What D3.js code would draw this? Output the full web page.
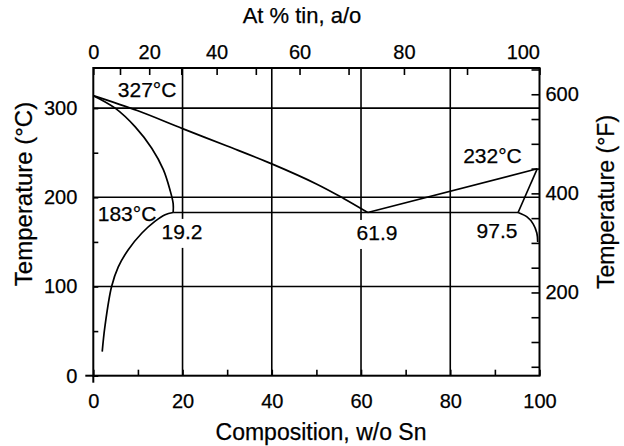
<!DOCTYPE html>
<html>
<head>
<meta charset="utf-8">
<script src="https://cdn.jsdelivr.net/npm/d3@7"></script>
<style>
  html, body { margin: 0; padding: 0; background: #fff; }
  svg { display: block; }
  text { font-family: "Liberation Sans", Arial, Helvetica, sans-serif; fill: #000; stroke: #000; stroke-width: 0.25px; }
</style>
</head>
<body>
<svg id="chart" width="624" height="446"></svg>
<script>
// ---------- data (composition in w/o Sn, temperature in °C) ----------
const wtMajorTicks = [0, 20, 40, 60, 80, 100];
const wtMinorTicks = [10, 30, 50, 70, 90];
const atMajorTicks = [0, 20, 40, 60, 80, 100];
const atMinorTicks = [10, 30, 50, 70, 90];
const tempMajorTicksC = [0, 100, 200, 300];
const tempMinorTicksC = [50, 150, 250];
const tempLabelsF = [200, 400, 600];
const tempTicksF = [50, 100, 150, 200, 250, 300, 350, 400, 450, 500, 550, 600, 650];

const liquidusPb = [[0, 314], [10, 297], [20, 277], [30, 257.5], [40, 237.5], [50, 215], [56, 199], [61.5, 183]];
const solidusAlpha = [[0, 314], [4.9, 300], [9.4, 279], [13.1, 255], [15.7, 231], [17.2, 208], [17.9, 193], [17.9, 183]];
const solvusAlpha = [[17.9, 183], [16.1, 180.5], [13.8, 173], [10.9, 160], [7.8, 141], [5.6, 122], [4.1, 100], [2.6, 55], [2.0, 27]];
const eutecticLine = [[17.9, 183], [95.2, 183]];
const liquidusSn = [[61.5, 183], [99.5, 232]];
const solidusBeta = [[99.5, 232], [95.2, 183]];
const solvusBeta = [[95.2, 183], [97.2, 178], [98.6, 170], [99.4, 160], [99.6, 150]];

const labelTexts = ["327°C", "183°C", "19.2", "61.9", "97.5", "232°C"];
const labelAnchors = [[5.5, 312.5], [1.0, 173.6], [15.3, 153.4], [59.0, 152.2], [85.9, 154.5], [82.9, 238.6]];
const labelMasked = [false, false, true, true, false, false];

// atomic weights used to place the a/o (atomic %) axis
const atomicWeightSn = 118.71, atomicWeightPb = 207.2;

// ---------- scales ----------
const svg = d3.select("#chart");
const pL = 93.3, pR = 539.5, pT = 68, pB = 375.7;
const x = d3.scaleLinear().domain([0, 100]).range([pL, pR]);
const y = d3.scaleLinear().domain([0, 345]).range([pB, pT]);

function atToWt(a) {
  if (a <= 0) return 0; if (a >= 100) return 100;
  const m = a * atomicWeightSn, n = (100 - a) * atomicWeightPb;
  return 100 * m / (m + n);
}
const atAll = d3.range(0, 101, 5);
const xAt = d3.scaleLinear().domain(atAll).range(atAll.map(a => x(atToWt(a))));

const cToF = c => c * 9 / 5 + 32;
const yF = d3.scaleLinear().domain([cToF(0), cToF(345)]).range([pB, pT]);

// ---------- grid ----------
const grid = svg.append("g").attr("stroke", "#000").attr("stroke-width", 1.6);
grid.selectAll("line.h").data(tempMajorTicksC.filter(d => d > 0)).join("line")
  .attr("x1", pL).attr("x2", pR).attr("y1", d => y(d)).attr("y2", d => y(d));
grid.selectAll("line.v").data(wtMajorTicks.filter(d => d > 0 && d < 100)).join("line")
  .attr("y1", pT).attr("y2", pB).attr("x1", d => x(d)).attr("x2", d => x(d));

// ---------- axes ----------
const fontTick = "20px";
function styleAxis(g) {
  g.select(".domain").remove();
  g.selectAll(".tick line").attr("stroke", "#000").attr("stroke-width", 1.6);
  g.selectAll(".tick text").attr("font-size", fontTick).attr("font-family", null).attr("fill", "#000");
}
const allC = tempMajorTicksC.concat(tempMinorTicksC).sort((a, b) => a - b);
svg.append("g").attr("transform", `translate(${pL},0)`)
  .call(d3.axisLeft(y).tickValues(allC).tickSizeInner(-5).tickSizeOuter(0).tickPadding(16)
    .tickFormat(d => tempMajorTicksC.includes(d) ? d : ""))
  .call(styleAxis);

const allWt = wtMajorTicks.concat(wtMinorTicks).sort((a, b) => a - b);
svg.append("g").attr("transform", `translate(0,${pB})`)
  .call(d3.axisBottom(x).tickValues(allWt).tickSizeInner(-6).tickSizeOuter(0).tickPadding(18)
    .tickFormat(d => wtMajorTicks.includes(d) ? d : ""))
  .call(styleAxis);

const allAt = atMajorTicks.concat(atMinorTicks).sort((a, b) => a - b);
const topAxis = svg.append("g").attr("transform", `translate(0,${pT})`)
  .call(d3.axisTop(xAt).tickValues(allAt).tickSizeInner(-7).tickSizeOuter(0).tickPadding(9)
    .tickFormat(d => atMajorTicks.includes(d) ? d : ""))
  .call(styleAxis);
topAxis.selectAll(".tick text").filter(d => d === 100).attr("text-anchor", "end");

svg.append("g").attr("transform", `translate(${pR},0)`)
  .call(d3.axisRight(yF).tickValues(tempTicksF).tickSizeInner(-8).tickSizeOuter(0).tickPadding(6)
    .tickFormat(d => tempLabelsF.includes(d) ? d : ""))
  .call(styleAxis);

// ---------- frame ----------
const frame = svg.append("g").attr("stroke", "#000").attr("stroke-width", 2).attr("fill", "none");
frame.append("rect").attr("x", pL).attr("y", pT).attr("width", pR - pL).attr("height", pB - pT);
frame.append("line").attr("x1", pL - 8).attr("x2", pL).attr("y1", y(0)).attr("y2", y(0));
frame.append("line").attr("x1", pL).attr("x2", pL).attr("y1", y(0)).attr("y2", y(0) + 7);

// ---------- label masks (labels interrupt grid lines) ----------
const maskG = svg.append("g");
const labelG = svg.append("g").attr("font-size", "21px");
labelTexts.forEach((t, i) => {
  const tx = labelG.append("text").attr("x", x(labelAnchors[i][0])).attr("y", y(labelAnchors[i][1])).text(t);
  if (labelMasked[i]) {
    const b = tx.node().getBBox();
    maskG.append("rect").attr("x", b.x - 2).attr("y", b.y - 1).attr("width", b.width + 4).attr("height", b.height + 6).attr("fill", "#fff");
  }
});

// ---------- phase boundaries ----------
const curve = d3.line().x(d => x(d[0])).y(d => y(d[1])).curve(d3.curveCatmullRom.alpha(0.5));
const straight = d3.line().x(d => x(d[0])).y(d => y(d[1]));
const lines = svg.append("g").attr("fill", "none").attr("stroke", "#000").attr("stroke-width", 1.7);
[liquidusPb, solidusAlpha, solvusAlpha, solvusBeta].forEach(d => lines.append("path").attr("d", curve(d)));
[eutecticLine, liquidusSn, solidusBeta].forEach(d => lines.append("path").attr("d", straight(d)));

// ---------- titles ----------
svg.append("text").attr("x", 302).attr("y", 23).attr("text-anchor", "middle").attr("font-size", "22px").text("At % tin, a/o");
svg.append("text").attr("x", 321).attr("y", 440).attr("text-anchor", "middle").attr("font-size", "23px").text("Composition, w/o Sn");
svg.append("text").attr("transform", "translate(32,194) rotate(-90)").attr("text-anchor", "middle").attr("font-size", "24px").text("Temperature (°C)");
svg.append("text").attr("transform", "translate(614,202) rotate(-90)").attr("text-anchor", "middle").attr("font-size", "23px").text("Temperature (°F)");
</script>
</body>
</html>
